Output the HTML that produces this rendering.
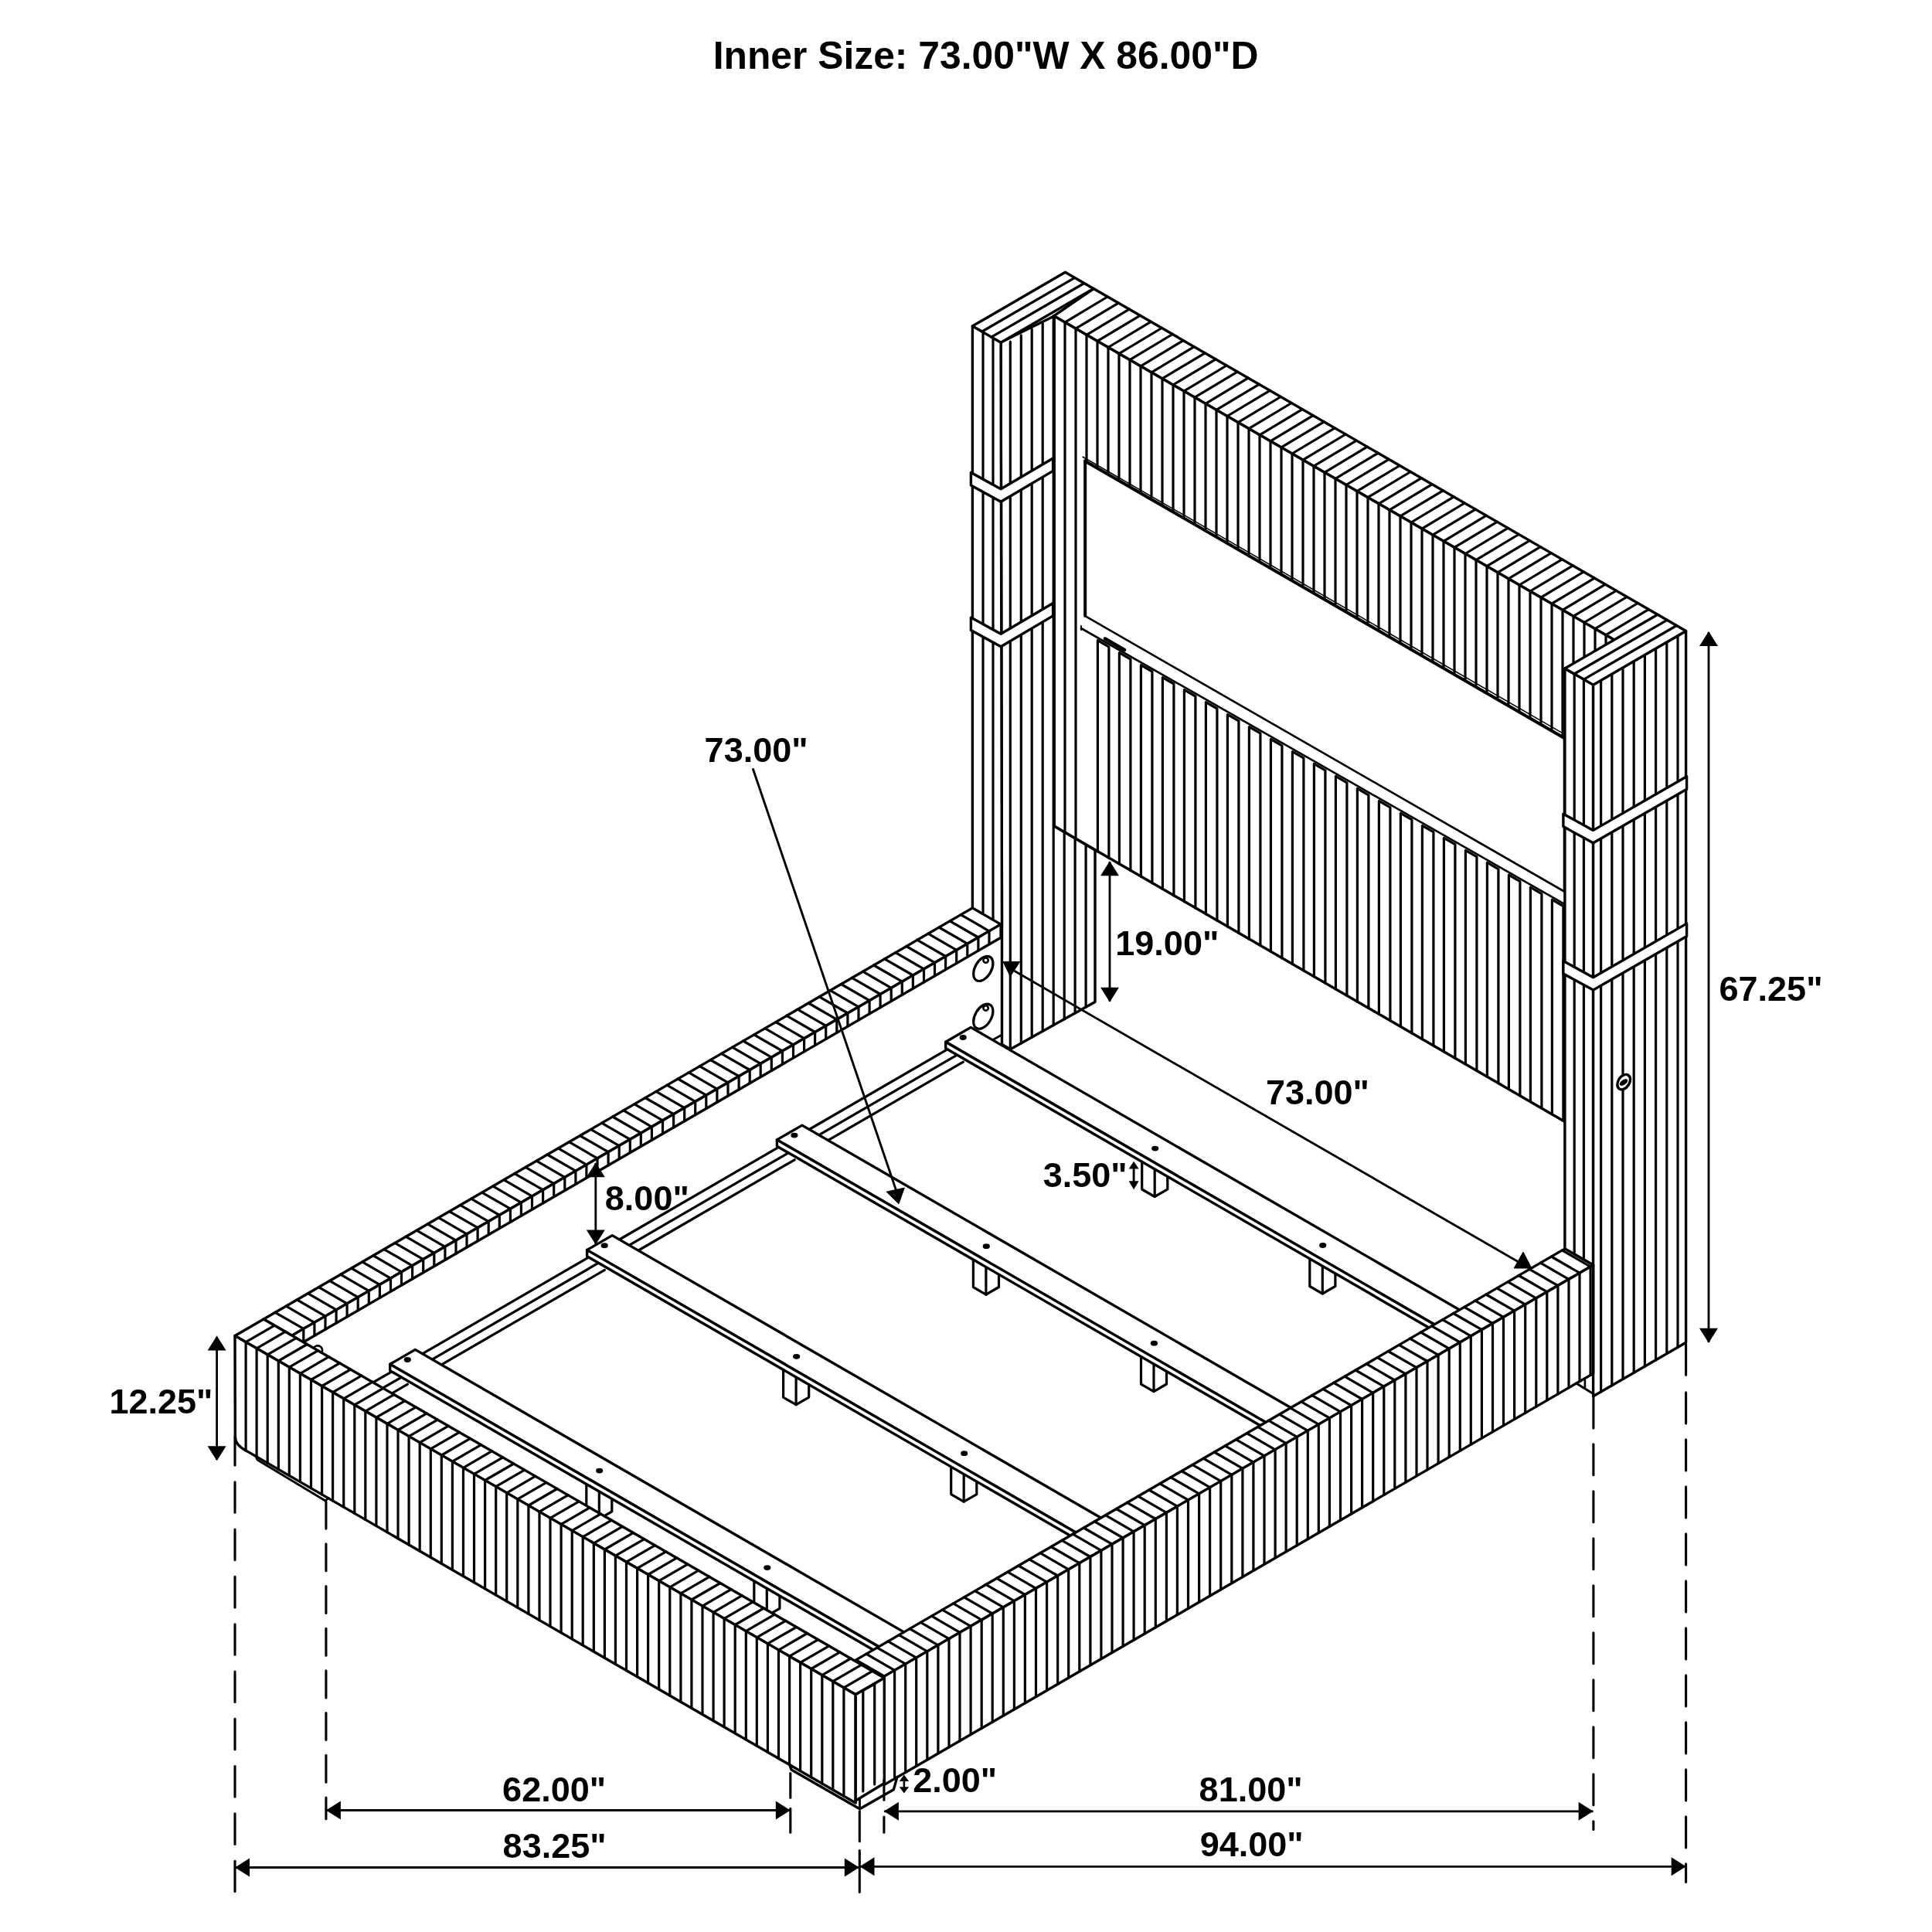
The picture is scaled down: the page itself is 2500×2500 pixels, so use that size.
<!DOCTYPE html>
<html><head><meta charset="utf-8"><title>Bed dimensions</title>
<style>
html,body{margin:0;padding:0;background:#fff;}
body{width:2500px;height:2500px;overflow:hidden;}
svg{display:block;}
text{font-family:"Liberation Sans",sans-serif;font-weight:bold;fill:#000;}
.t{opacity:0.999;will-change:transform;}
</style></head><body>
<svg xmlns="http://www.w3.org/2000/svg" width="2500" height="2500" viewBox="0 0 2500 2500">
<rect width="2500" height="2500" fill="#fff"/>
<g stroke="#000" stroke-linecap="round" stroke-linejoin="round">
<path d="M1363.6 408.8 L2093.5 830.7 L2145 795.3 L1415.1 373.5 Z" fill="#fff" stroke-width="3.4"/>
<path d="M1363.6 408.8 L2093.5 830.7 L2093.6 1491.2 L1364 1069 Z" fill="#fff" stroke-width="3.4"/>
<line x1="1364" y1="409" x2="1364" y2="1069.4" stroke-width="3.2"/>
<line x1="1378" y1="417.1" x2="1378" y2="1077.5" stroke-width="3.2"/>
<line x1="1392" y1="425.2" x2="1392" y2="1085.5" stroke-width="3.2"/>
<line x1="1406" y1="433.3" x2="1406" y2="595.2" stroke-width="3.2"/>
<line x1="1420" y1="441.4" x2="1420" y2="603.3" stroke-width="3.2"/>
<line x1="1434" y1="449.5" x2="1434" y2="611.4" stroke-width="3.2"/>
<line x1="1448" y1="457.6" x2="1448" y2="619.5" stroke-width="3.2"/>
<line x1="1462" y1="465.7" x2="1462" y2="627.6" stroke-width="3.2"/>
<line x1="1476" y1="473.8" x2="1476" y2="635.7" stroke-width="3.2"/>
<line x1="1490" y1="481.9" x2="1490" y2="643.8" stroke-width="3.2"/>
<line x1="1504" y1="489.9" x2="1504" y2="651.9" stroke-width="3.2"/>
<line x1="1518" y1="498" x2="1518" y2="660" stroke-width="3.2"/>
<line x1="1532" y1="506.1" x2="1532" y2="668.1" stroke-width="3.2"/>
<line x1="1546" y1="514.2" x2="1546" y2="676.2" stroke-width="3.2"/>
<line x1="1560" y1="522.3" x2="1560" y2="684.3" stroke-width="3.2"/>
<line x1="1574" y1="530.4" x2="1574" y2="692.3" stroke-width="3.2"/>
<line x1="1588" y1="538.5" x2="1588" y2="700.4" stroke-width="3.2"/>
<line x1="1602" y1="546.6" x2="1602" y2="708.5" stroke-width="3.2"/>
<line x1="1616" y1="554.7" x2="1616" y2="716.6" stroke-width="3.2"/>
<line x1="1630" y1="562.8" x2="1630" y2="724.7" stroke-width="3.2"/>
<line x1="1644" y1="570.9" x2="1644" y2="732.8" stroke-width="3.2"/>
<line x1="1658" y1="578.9" x2="1658" y2="740.9" stroke-width="3.2"/>
<line x1="1672" y1="587" x2="1672" y2="749" stroke-width="3.2"/>
<line x1="1686" y1="595.1" x2="1686" y2="757.1" stroke-width="3.2"/>
<line x1="1700" y1="603.2" x2="1700" y2="765.2" stroke-width="3.2"/>
<line x1="1714" y1="611.3" x2="1714" y2="773.3" stroke-width="3.2"/>
<line x1="1728" y1="619.4" x2="1728" y2="781.4" stroke-width="3.2"/>
<line x1="1742" y1="627.5" x2="1742" y2="789.4" stroke-width="3.2"/>
<line x1="1756" y1="635.6" x2="1756" y2="797.5" stroke-width="3.2"/>
<line x1="1770" y1="643.7" x2="1770" y2="805.6" stroke-width="3.2"/>
<line x1="1784" y1="651.8" x2="1784" y2="813.7" stroke-width="3.2"/>
<line x1="1798" y1="659.9" x2="1798" y2="821.8" stroke-width="3.2"/>
<line x1="1812" y1="667.9" x2="1812" y2="829.9" stroke-width="3.2"/>
<line x1="1826" y1="676" x2="1826" y2="838" stroke-width="3.2"/>
<line x1="1840" y1="684.1" x2="1840" y2="846.1" stroke-width="3.2"/>
<line x1="1854" y1="692.2" x2="1854" y2="854.2" stroke-width="3.2"/>
<line x1="1868" y1="700.3" x2="1868" y2="862.3" stroke-width="3.2"/>
<line x1="1882" y1="708.4" x2="1882" y2="870.4" stroke-width="3.2"/>
<line x1="1896" y1="716.5" x2="1896" y2="878.5" stroke-width="3.2"/>
<line x1="1910" y1="724.6" x2="1910" y2="886.6" stroke-width="3.2"/>
<line x1="1924" y1="732.7" x2="1924" y2="894.6" stroke-width="3.2"/>
<line x1="1938" y1="740.8" x2="1938" y2="902.7" stroke-width="3.2"/>
<line x1="1952" y1="748.9" x2="1952" y2="910.8" stroke-width="3.2"/>
<line x1="1966" y1="757" x2="1966" y2="918.9" stroke-width="3.2"/>
<line x1="1980" y1="765" x2="1980" y2="927" stroke-width="3.2"/>
<line x1="1994" y1="773.1" x2="1994" y2="935.1" stroke-width="3.2"/>
<line x1="2008" y1="781.2" x2="2008" y2="943.2" stroke-width="3.2"/>
<line x1="2022" y1="789.3" x2="2022" y2="951.3" stroke-width="3.2"/>
<line x1="2036" y1="797.4" x2="2036" y2="877.4" stroke-width="3.2"/>
<line x1="2050" y1="805.5" x2="2050" y2="885.5" stroke-width="3.2"/>
<line x1="2064" y1="813.6" x2="2064" y2="893.6" stroke-width="3.2"/>
<line x1="2078" y1="821.7" x2="2078" y2="901.7" stroke-width="3.2"/>
<line x1="2092" y1="829.8" x2="2092" y2="909.8" stroke-width="3.2"/>
<line x1="1378" y1="417.1" x2="1433.2" y2="384" stroke-width="3.2"/>
<line x1="1392" y1="425.2" x2="1447.2" y2="392.1" stroke-width="3.2"/>
<line x1="1406" y1="433.3" x2="1461.2" y2="400.2" stroke-width="3.2"/>
<line x1="1420" y1="441.4" x2="1475.2" y2="408.3" stroke-width="3.2"/>
<line x1="1434" y1="449.5" x2="1489.2" y2="416.4" stroke-width="3.2"/>
<line x1="1448" y1="457.6" x2="1503.2" y2="424.5" stroke-width="3.2"/>
<line x1="1462" y1="465.7" x2="1517.2" y2="432.5" stroke-width="3.2"/>
<line x1="1476" y1="473.8" x2="1531.2" y2="440.6" stroke-width="3.2"/>
<line x1="1490" y1="481.9" x2="1545.2" y2="448.7" stroke-width="3.2"/>
<line x1="1504" y1="489.9" x2="1559.2" y2="456.8" stroke-width="3.2"/>
<line x1="1518" y1="498" x2="1573.2" y2="464.9" stroke-width="3.2"/>
<line x1="1532" y1="506.1" x2="1587.2" y2="473" stroke-width="3.2"/>
<line x1="1546" y1="514.2" x2="1601.2" y2="481.1" stroke-width="3.2"/>
<line x1="1560" y1="522.3" x2="1615.2" y2="489.2" stroke-width="3.2"/>
<line x1="1574" y1="530.4" x2="1629.2" y2="497.3" stroke-width="3.2"/>
<line x1="1588" y1="538.5" x2="1643.2" y2="505.4" stroke-width="3.2"/>
<line x1="1602" y1="546.6" x2="1657.2" y2="513.5" stroke-width="3.2"/>
<line x1="1616" y1="554.7" x2="1671.2" y2="521.5" stroke-width="3.2"/>
<line x1="1630" y1="562.8" x2="1685.2" y2="529.6" stroke-width="3.2"/>
<line x1="1644" y1="570.9" x2="1699.2" y2="537.7" stroke-width="3.2"/>
<line x1="1658" y1="578.9" x2="1713.2" y2="545.8" stroke-width="3.2"/>
<line x1="1672" y1="587" x2="1727.2" y2="553.9" stroke-width="3.2"/>
<line x1="1686" y1="595.1" x2="1741.2" y2="562" stroke-width="3.2"/>
<line x1="1700" y1="603.2" x2="1755.2" y2="570.1" stroke-width="3.2"/>
<line x1="1714" y1="611.3" x2="1769.2" y2="578.2" stroke-width="3.2"/>
<line x1="1728" y1="619.4" x2="1783.2" y2="586.3" stroke-width="3.2"/>
<line x1="1742" y1="627.5" x2="1797.2" y2="594.4" stroke-width="3.2"/>
<line x1="1756" y1="635.6" x2="1811.2" y2="602.5" stroke-width="3.2"/>
<line x1="1770" y1="643.7" x2="1825.2" y2="610.5" stroke-width="3.2"/>
<line x1="1784" y1="651.8" x2="1839.2" y2="618.6" stroke-width="3.2"/>
<line x1="1798" y1="659.9" x2="1853.2" y2="626.7" stroke-width="3.2"/>
<line x1="1812" y1="667.9" x2="1867.2" y2="634.8" stroke-width="3.2"/>
<line x1="1826" y1="676" x2="1881.2" y2="642.9" stroke-width="3.2"/>
<line x1="1840" y1="684.1" x2="1895.2" y2="651" stroke-width="3.2"/>
<line x1="1854" y1="692.2" x2="1909.2" y2="659.1" stroke-width="3.2"/>
<line x1="1868" y1="700.3" x2="1923.2" y2="667.2" stroke-width="3.2"/>
<line x1="1882" y1="708.4" x2="1937.2" y2="675.3" stroke-width="3.2"/>
<line x1="1896" y1="716.5" x2="1951.2" y2="683.4" stroke-width="3.2"/>
<line x1="1910" y1="724.6" x2="1965.2" y2="691.5" stroke-width="3.2"/>
<line x1="1924" y1="732.7" x2="1979.2" y2="699.6" stroke-width="3.2"/>
<line x1="1938" y1="740.8" x2="1993.2" y2="707.6" stroke-width="3.2"/>
<line x1="1952" y1="748.9" x2="2007.2" y2="715.7" stroke-width="3.2"/>
<line x1="1966" y1="757" x2="2021.2" y2="723.8" stroke-width="3.2"/>
<line x1="1980" y1="765" x2="2035.2" y2="731.9" stroke-width="3.2"/>
<line x1="1994" y1="773.1" x2="2049.2" y2="740" stroke-width="3.2"/>
<line x1="2008" y1="781.2" x2="2063.2" y2="748.1" stroke-width="3.2"/>
<line x1="2022" y1="789.3" x2="2077.2" y2="756.2" stroke-width="3.2"/>
<line x1="2036" y1="797.4" x2="2091.2" y2="764.3" stroke-width="3.2"/>
<line x1="2050" y1="805.5" x2="2105.2" y2="772.4" stroke-width="3.2"/>
<line x1="2064" y1="813.6" x2="2119.2" y2="780.5" stroke-width="3.2"/>
<line x1="2078" y1="821.7" x2="2133.2" y2="788.6" stroke-width="3.2"/>
<path d="M1404.2 596.2 L2024 954.4 L2024 1153.5 L1404.2 797.1 Z" fill="#fff" stroke-width="2.6"/>
<line x1="1404.2" y1="596.7" x2="2024" y2="954.9" stroke-width="4.0"/>
<line x1="1401.2" y1="591.2" x2="2024" y2="949.9" stroke-width="1.6"/>
<line x1="1404.2" y1="596.2" x2="1404.2" y2="797.1" stroke-width="4.0"/>
<line x1="1399" y1="813" x2="2024" y2="1169.6" stroke-width="2.6"/>
<line x1="1399" y1="810" x2="1399" y2="815" stroke-width="2.0"/>
<line x1="1430" y1="826.5" x2="1455" y2="841" stroke-width="4.5"/>
<path d="M1420.4 1102 L1420.4 828.7 L1434.9 837.1 L1434.9 1110.3" fill="none" stroke-width="3.2"/>
<path d="M1448.4 1118.1 L1448.4 844.7 L1462.9 853.1 L1462.9 1126.5" fill="none" stroke-width="3.2"/>
<path d="M1476.4 1134.3 L1476.4 860.7 L1490.9 869 L1490.9 1142.7" fill="none" stroke-width="3.2"/>
<path d="M1504.4 1150.5 L1504.4 876.6 L1518.9 885 L1518.9 1158.9" fill="none" stroke-width="3.2"/>
<path d="M1532.4 1166.7 L1532.4 892.6 L1546.9 901 L1546.9 1175.1" fill="none" stroke-width="3.2"/>
<path d="M1560.4 1182.9 L1560.4 908.6 L1574.9 917 L1574.9 1191.3" fill="none" stroke-width="3.2"/>
<path d="M1588.4 1199.1 L1588.4 924.6 L1602.9 932.9 L1602.9 1207.5" fill="none" stroke-width="3.2"/>
<path d="M1616.4 1215.3 L1616.4 940.5 L1630.9 948.9 L1630.9 1223.6" fill="none" stroke-width="3.2"/>
<path d="M1644.4 1231.4 L1644.4 956.5 L1658.9 964.9 L1658.9 1239.8" fill="none" stroke-width="3.2"/>
<path d="M1672.4 1247.6 L1672.4 972.5 L1686.9 980.9 L1686.9 1256" fill="none" stroke-width="3.2"/>
<path d="M1700.4 1263.8 L1700.4 988.4 L1714.9 996.8 L1714.9 1272.2" fill="none" stroke-width="3.2"/>
<path d="M1728.4 1280 L1728.4 1004.4 L1742.9 1012.8 L1742.9 1288.4" fill="none" stroke-width="3.2"/>
<path d="M1756.4 1296.2 L1756.4 1020.4 L1770.9 1028.8 L1770.9 1304.6" fill="none" stroke-width="3.2"/>
<path d="M1784.4 1312.4 L1784.4 1036.4 L1798.9 1044.8 L1798.9 1320.7" fill="none" stroke-width="3.2"/>
<path d="M1812.4 1328.5 L1812.4 1052.3 L1826.9 1060.7 L1826.9 1336.9" fill="none" stroke-width="3.2"/>
<path d="M1840.4 1344.7 L1840.4 1068.3 L1854.9 1076.7 L1854.9 1353.1" fill="none" stroke-width="3.2"/>
<path d="M1868.4 1360.9 L1868.4 1084.3 L1882.9 1092.7 L1882.9 1369.3" fill="none" stroke-width="3.2"/>
<path d="M1896.4 1377.1 L1896.4 1100.3 L1910.9 1108.6 L1910.9 1385.5" fill="none" stroke-width="3.2"/>
<path d="M1924.4 1393.3 L1924.4 1116.2 L1938.9 1124.6 L1938.9 1401.7" fill="none" stroke-width="3.2"/>
<path d="M1952.4 1409.5 L1952.4 1132.2 L1966.9 1140.6 L1966.9 1417.8" fill="none" stroke-width="3.2"/>
<path d="M1980.4 1425.6 L1980.4 1148.2 L1994.9 1156.6 L1994.9 1434" fill="none" stroke-width="3.2"/>
<path d="M2008.4 1441.8 L2008.4 1164.2 L2022.9 1172.5 L2022.9 1450.2" fill="none" stroke-width="3.2"/>
<path d="M1295.1 443.1 L1364 409 L1364 1069 L1417 1100 L1417 1296.6 L1307.3 1357.7 L1296.5 1351.5 L1296.5 1216 Z" fill="#fff" stroke-width="3.4"/>
<line x1="1307.3" y1="442" x2="1307.3" y2="1357.7" stroke-width="3.2"/>
<line x1="1321.3" y1="433.9" x2="1321.3" y2="1349.9" stroke-width="3.2"/>
<line x1="1335.2" y1="425.9" x2="1335.2" y2="1342.2" stroke-width="3.2"/>
<line x1="1349.2" y1="417.7" x2="1349.2" y2="1334.4" stroke-width="3.2"/>
<line x1="1363.2" y1="408.6" x2="1363.2" y2="1326.6" stroke-width="3.2"/>
<line x1="1377.2" y1="1077" x2="1377.2" y2="1318.8" stroke-width="3.2"/>
<line x1="1391.1" y1="1085" x2="1391.1" y2="1311" stroke-width="3.2"/>
<line x1="1405.1" y1="1093.1" x2="1405.1" y2="1303.2" stroke-width="3.2"/>
<path d="M1258.4 421.9 L1295.1 443.1 L1296.5 1199.3 L1258.4 1177 Z" fill="#fff" stroke-width="3.4"/>
<line x1="1272" y1="429.8" x2="1272" y2="1185" stroke-width="3.2"/>
<line x1="1285" y1="437.3" x2="1285" y2="1192.6" stroke-width="3.2"/>
<path d="M1258.4 421.9 L1378.4 352.3 L1415.1 373.5 L1295.1 443.1 Z" fill="#fff" stroke-width="3.4"/>
<line x1="1270.7" y1="429" x2="1390.7" y2="359.4" stroke-width="3.2"/>
<line x1="1282.9" y1="436.1" x2="1402.9" y2="366.5" stroke-width="3.2"/>
<path d="M1256.4 611.5 L1295.1 632.7 L1362.6 593 L1362.6 609.4 L1295.1 649.2 L1256.4 628 Z" fill="#fff" stroke-width="3.4"/>
<path d="M1256.4 799.1 L1295.1 820.3 L1362.6 780.5 L1362.6 796.9 L1295.1 836.7 L1256.4 815.5 Z" fill="#fff" stroke-width="3.4"/>
<path d="M2024.9 865 L2061.6 886.1 L2061.6 1637 L2024.9 1615.9 Z" fill="#fff" stroke-width="3.4"/>
<line x1="2037.2" y1="872" x2="2037.2" y2="1622.9" stroke-width="3.2"/>
<line x1="2049.4" y1="879.1" x2="2049.4" y2="1630" stroke-width="3.2"/>
<path d="M2061.6 886.1 L2181.6 816.5 L2181.6 1737.2 L2061.6 1806.8 Z" fill="#fff" stroke-width="3.4"/>
<line x1="2071.6" y1="880.3" x2="2071.6" y2="1801" stroke-width="3.2"/>
<line x1="2085.8" y1="872.1" x2="2085.8" y2="1792.8" stroke-width="3.2"/>
<line x1="2100" y1="863.9" x2="2100" y2="1784.5" stroke-width="3.2"/>
<line x1="2114.2" y1="855.6" x2="2114.2" y2="1776.3" stroke-width="3.2"/>
<line x1="2128.4" y1="847.4" x2="2128.4" y2="1768.1" stroke-width="3.2"/>
<line x1="2142.6" y1="839.2" x2="2142.6" y2="1759.8" stroke-width="3.2"/>
<line x1="2156.8" y1="830.9" x2="2156.8" y2="1751.6" stroke-width="3.2"/>
<line x1="2171" y1="822.7" x2="2171" y2="1743.3" stroke-width="3.2"/>
<path d="M2024.9 865 L2145 795.3 L2181.6 816.5 L2061.6 886.1 Z" fill="#fff" stroke-width="3.4"/>
<line x1="2037.2" y1="872" x2="2157.2" y2="802.4" stroke-width="3.2"/>
<line x1="2049.4" y1="879.1" x2="2169.5" y2="809.5" stroke-width="3.2"/>
<path d="M2022.9 1053.2 L2061.6 1074.4 L2182.6 1004.8 L2182.6 1021.2 L2061.6 1090.8 L2022.9 1069.6 Z" fill="#fff" stroke-width="3.4"/>
<path d="M2022.9 1243.5 L2061.6 1264.7 L2182.6 1195.1 L2182.6 1211.5 L2061.6 1281.1 L2022.9 1259.9 Z" fill="#fff" stroke-width="3.4"/>
<ellipse cx="2101.2" cy="1400.1" rx="7.2" ry="10.6" transform="rotate(33 2101.2 1400.1)" fill="#fff" stroke-width="3.4"/>
<ellipse cx="2101" cy="1400.5" rx="6" ry="3.2" transform="rotate(-35 2101 1400.5)" fill="#000" stroke="none"/>
<path d="M341.1 1707 L1258.4 1174.9 L1295.1 1196.1 L377.8 1728.1 Z" fill="#fff" stroke-width="3.4"/>
<path d="M377.8 1728.1 L1295.1 1196.1 L1295.1 1213.2 L377.8 1745.3 Z" fill="#fff" stroke-width="3.4"/>
<line x1="356.1" y1="1698.3" x2="392.8" y2="1719.4" stroke-width="3.2"/>
<line x1="392.8" y1="1719.4" x2="392.8" y2="1736.6" stroke-width="3.2"/>
<line x1="370.2" y1="1690.1" x2="406.9" y2="1711.3" stroke-width="3.2"/>
<line x1="406.9" y1="1711.3" x2="406.9" y2="1728.4" stroke-width="3.2"/>
<line x1="384.3" y1="1681.9" x2="421" y2="1703.1" stroke-width="3.2"/>
<line x1="421" y1="1703.1" x2="421" y2="1720.2" stroke-width="3.2"/>
<line x1="398.4" y1="1673.7" x2="435.1" y2="1694.9" stroke-width="3.2"/>
<line x1="435.1" y1="1694.9" x2="435.1" y2="1712" stroke-width="3.2"/>
<line x1="412.5" y1="1665.6" x2="449.1" y2="1686.8" stroke-width="3.2"/>
<line x1="449.1" y1="1686.8" x2="449.1" y2="1703.9" stroke-width="3.2"/>
<line x1="426.6" y1="1657.4" x2="463.2" y2="1678.6" stroke-width="3.2"/>
<line x1="463.2" y1="1678.6" x2="463.2" y2="1695.7" stroke-width="3.2"/>
<line x1="440.6" y1="1649.2" x2="477.3" y2="1670.4" stroke-width="3.2"/>
<line x1="477.3" y1="1670.4" x2="477.3" y2="1687.5" stroke-width="3.2"/>
<line x1="454.7" y1="1641.1" x2="491.4" y2="1662.3" stroke-width="3.2"/>
<line x1="491.4" y1="1662.3" x2="491.4" y2="1679.4" stroke-width="3.2"/>
<line x1="468.8" y1="1632.9" x2="505.5" y2="1654.1" stroke-width="3.2"/>
<line x1="505.5" y1="1654.1" x2="505.5" y2="1671.2" stroke-width="3.2"/>
<line x1="482.9" y1="1624.7" x2="519.5" y2="1645.9" stroke-width="3.2"/>
<line x1="519.5" y1="1645.9" x2="519.5" y2="1663" stroke-width="3.2"/>
<line x1="497" y1="1616.6" x2="533.6" y2="1637.8" stroke-width="3.2"/>
<line x1="533.6" y1="1637.8" x2="533.6" y2="1654.9" stroke-width="3.2"/>
<line x1="511" y1="1608.4" x2="547.7" y2="1629.6" stroke-width="3.2"/>
<line x1="547.7" y1="1629.6" x2="547.7" y2="1646.7" stroke-width="3.2"/>
<line x1="525.1" y1="1600.2" x2="561.8" y2="1621.4" stroke-width="3.2"/>
<line x1="561.8" y1="1621.4" x2="561.8" y2="1638.5" stroke-width="3.2"/>
<line x1="539.2" y1="1592.1" x2="575.9" y2="1613.3" stroke-width="3.2"/>
<line x1="575.9" y1="1613.3" x2="575.9" y2="1630.4" stroke-width="3.2"/>
<line x1="553.3" y1="1583.9" x2="590" y2="1605.1" stroke-width="3.2"/>
<line x1="590" y1="1605.1" x2="590" y2="1622.2" stroke-width="3.2"/>
<line x1="567.4" y1="1575.7" x2="604" y2="1596.9" stroke-width="3.2"/>
<line x1="604" y1="1596.9" x2="604" y2="1614" stroke-width="3.2"/>
<line x1="581.5" y1="1567.6" x2="618.1" y2="1588.7" stroke-width="3.2"/>
<line x1="618.1" y1="1588.7" x2="618.1" y2="1605.9" stroke-width="3.2"/>
<line x1="595.5" y1="1559.4" x2="632.2" y2="1580.6" stroke-width="3.2"/>
<line x1="632.2" y1="1580.6" x2="632.2" y2="1597.7" stroke-width="3.2"/>
<line x1="609.6" y1="1551.2" x2="646.3" y2="1572.4" stroke-width="3.2"/>
<line x1="646.3" y1="1572.4" x2="646.3" y2="1589.5" stroke-width="3.2"/>
<line x1="623.7" y1="1543.1" x2="660.4" y2="1564.2" stroke-width="3.2"/>
<line x1="660.4" y1="1564.2" x2="660.4" y2="1581.4" stroke-width="3.2"/>
<line x1="637.8" y1="1534.9" x2="674.4" y2="1556.1" stroke-width="3.2"/>
<line x1="674.4" y1="1556.1" x2="674.4" y2="1573.2" stroke-width="3.2"/>
<line x1="651.9" y1="1526.7" x2="688.5" y2="1547.9" stroke-width="3.2"/>
<line x1="688.5" y1="1547.9" x2="688.5" y2="1565" stroke-width="3.2"/>
<line x1="665.9" y1="1518.6" x2="702.6" y2="1539.7" stroke-width="3.2"/>
<line x1="702.6" y1="1539.7" x2="702.6" y2="1556.9" stroke-width="3.2"/>
<line x1="680" y1="1510.4" x2="716.7" y2="1531.6" stroke-width="3.2"/>
<line x1="716.7" y1="1531.6" x2="716.7" y2="1548.7" stroke-width="3.2"/>
<line x1="694.1" y1="1502.2" x2="730.8" y2="1523.4" stroke-width="3.2"/>
<line x1="730.8" y1="1523.4" x2="730.8" y2="1540.5" stroke-width="3.2"/>
<line x1="708.2" y1="1494" x2="744.9" y2="1515.2" stroke-width="3.2"/>
<line x1="744.9" y1="1515.2" x2="744.9" y2="1532.3" stroke-width="3.2"/>
<line x1="722.3" y1="1485.9" x2="758.9" y2="1507.1" stroke-width="3.2"/>
<line x1="758.9" y1="1507.1" x2="758.9" y2="1524.2" stroke-width="3.2"/>
<line x1="736.4" y1="1477.7" x2="773" y2="1498.9" stroke-width="3.2"/>
<line x1="773" y1="1498.9" x2="773" y2="1516" stroke-width="3.2"/>
<line x1="750.4" y1="1469.5" x2="787.1" y2="1490.7" stroke-width="3.2"/>
<line x1="787.1" y1="1490.7" x2="787.1" y2="1507.8" stroke-width="3.2"/>
<line x1="764.5" y1="1461.4" x2="801.2" y2="1482.6" stroke-width="3.2"/>
<line x1="801.2" y1="1482.6" x2="801.2" y2="1499.7" stroke-width="3.2"/>
<line x1="778.6" y1="1453.2" x2="815.3" y2="1474.4" stroke-width="3.2"/>
<line x1="815.3" y1="1474.4" x2="815.3" y2="1491.5" stroke-width="3.2"/>
<line x1="792.7" y1="1445" x2="829.3" y2="1466.2" stroke-width="3.2"/>
<line x1="829.3" y1="1466.2" x2="829.3" y2="1483.3" stroke-width="3.2"/>
<line x1="806.8" y1="1436.9" x2="843.4" y2="1458.1" stroke-width="3.2"/>
<line x1="843.4" y1="1458.1" x2="843.4" y2="1475.2" stroke-width="3.2"/>
<line x1="820.8" y1="1428.7" x2="857.5" y2="1449.9" stroke-width="3.2"/>
<line x1="857.5" y1="1449.9" x2="857.5" y2="1467" stroke-width="3.2"/>
<line x1="834.9" y1="1420.5" x2="871.6" y2="1441.7" stroke-width="3.2"/>
<line x1="871.6" y1="1441.7" x2="871.6" y2="1458.8" stroke-width="3.2"/>
<line x1="849" y1="1412.4" x2="885.7" y2="1433.6" stroke-width="3.2"/>
<line x1="885.7" y1="1433.6" x2="885.7" y2="1450.7" stroke-width="3.2"/>
<line x1="863.1" y1="1404.2" x2="899.7" y2="1425.4" stroke-width="3.2"/>
<line x1="899.7" y1="1425.4" x2="899.7" y2="1442.5" stroke-width="3.2"/>
<line x1="877.2" y1="1396" x2="913.8" y2="1417.2" stroke-width="3.2"/>
<line x1="913.8" y1="1417.2" x2="913.8" y2="1434.3" stroke-width="3.2"/>
<line x1="891.3" y1="1387.9" x2="927.9" y2="1409.1" stroke-width="3.2"/>
<line x1="927.9" y1="1409.1" x2="927.9" y2="1426.2" stroke-width="3.2"/>
<line x1="905.3" y1="1379.7" x2="942" y2="1400.9" stroke-width="3.2"/>
<line x1="942" y1="1400.9" x2="942" y2="1418" stroke-width="3.2"/>
<line x1="919.4" y1="1371.5" x2="956.1" y2="1392.7" stroke-width="3.2"/>
<line x1="956.1" y1="1392.7" x2="956.1" y2="1409.8" stroke-width="3.2"/>
<line x1="933.5" y1="1363.4" x2="970.2" y2="1384.5" stroke-width="3.2"/>
<line x1="970.2" y1="1384.5" x2="970.2" y2="1401.7" stroke-width="3.2"/>
<line x1="947.6" y1="1355.2" x2="984.2" y2="1376.4" stroke-width="3.2"/>
<line x1="984.2" y1="1376.4" x2="984.2" y2="1393.5" stroke-width="3.2"/>
<line x1="961.7" y1="1347" x2="998.3" y2="1368.2" stroke-width="3.2"/>
<line x1="998.3" y1="1368.2" x2="998.3" y2="1385.3" stroke-width="3.2"/>
<line x1="975.7" y1="1338.9" x2="1012.4" y2="1360" stroke-width="3.2"/>
<line x1="1012.4" y1="1360" x2="1012.4" y2="1377.2" stroke-width="3.2"/>
<line x1="989.8" y1="1330.7" x2="1026.5" y2="1351.9" stroke-width="3.2"/>
<line x1="1026.5" y1="1351.9" x2="1026.5" y2="1369" stroke-width="3.2"/>
<line x1="1003.9" y1="1322.5" x2="1040.6" y2="1343.7" stroke-width="3.2"/>
<line x1="1040.6" y1="1343.7" x2="1040.6" y2="1360.8" stroke-width="3.2"/>
<line x1="1018" y1="1314.3" x2="1054.6" y2="1335.5" stroke-width="3.2"/>
<line x1="1054.6" y1="1335.5" x2="1054.6" y2="1352.6" stroke-width="3.2"/>
<line x1="1032.1" y1="1306.2" x2="1068.7" y2="1327.4" stroke-width="3.2"/>
<line x1="1068.7" y1="1327.4" x2="1068.7" y2="1344.5" stroke-width="3.2"/>
<line x1="1046.1" y1="1298" x2="1082.8" y2="1319.2" stroke-width="3.2"/>
<line x1="1082.8" y1="1319.2" x2="1082.8" y2="1336.3" stroke-width="3.2"/>
<line x1="1060.2" y1="1289.8" x2="1096.9" y2="1311" stroke-width="3.2"/>
<line x1="1096.9" y1="1311" x2="1096.9" y2="1328.1" stroke-width="3.2"/>
<line x1="1074.3" y1="1281.7" x2="1111" y2="1302.9" stroke-width="3.2"/>
<line x1="1111" y1="1302.9" x2="1111" y2="1320" stroke-width="3.2"/>
<line x1="1088.4" y1="1273.5" x2="1125.1" y2="1294.7" stroke-width="3.2"/>
<line x1="1125.1" y1="1294.7" x2="1125.1" y2="1311.8" stroke-width="3.2"/>
<line x1="1102.5" y1="1265.3" x2="1139.1" y2="1286.5" stroke-width="3.2"/>
<line x1="1139.1" y1="1286.5" x2="1139.1" y2="1303.6" stroke-width="3.2"/>
<line x1="1116.6" y1="1257.2" x2="1153.2" y2="1278.4" stroke-width="3.2"/>
<line x1="1153.2" y1="1278.4" x2="1153.2" y2="1295.5" stroke-width="3.2"/>
<line x1="1130.6" y1="1249" x2="1167.3" y2="1270.2" stroke-width="3.2"/>
<line x1="1167.3" y1="1270.2" x2="1167.3" y2="1287.3" stroke-width="3.2"/>
<line x1="1144.7" y1="1240.8" x2="1181.4" y2="1262" stroke-width="3.2"/>
<line x1="1181.4" y1="1262" x2="1181.4" y2="1279.1" stroke-width="3.2"/>
<line x1="1158.8" y1="1232.7" x2="1195.5" y2="1253.9" stroke-width="3.2"/>
<line x1="1195.5" y1="1253.9" x2="1195.5" y2="1271" stroke-width="3.2"/>
<line x1="1172.9" y1="1224.5" x2="1209.5" y2="1245.7" stroke-width="3.2"/>
<line x1="1209.5" y1="1245.7" x2="1209.5" y2="1262.8" stroke-width="3.2"/>
<line x1="1187" y1="1216.3" x2="1223.6" y2="1237.5" stroke-width="3.2"/>
<line x1="1223.6" y1="1237.5" x2="1223.6" y2="1254.6" stroke-width="3.2"/>
<line x1="1201" y1="1208.2" x2="1237.7" y2="1229.4" stroke-width="3.2"/>
<line x1="1237.7" y1="1229.4" x2="1237.7" y2="1246.5" stroke-width="3.2"/>
<line x1="1215.1" y1="1200" x2="1251.8" y2="1221.2" stroke-width="3.2"/>
<line x1="1251.8" y1="1221.2" x2="1251.8" y2="1238.3" stroke-width="3.2"/>
<line x1="1229.2" y1="1191.8" x2="1265.9" y2="1213" stroke-width="3.2"/>
<line x1="1265.9" y1="1213" x2="1265.9" y2="1230.1" stroke-width="3.2"/>
<line x1="1243.3" y1="1183.7" x2="1280" y2="1204.8" stroke-width="3.2"/>
<line x1="1280" y1="1204.8" x2="1280" y2="1222" stroke-width="3.2"/>
<ellipse cx="1272.3" cy="1253.4" rx="10.5" ry="17.5" transform="rotate(30 1272.3 1253.4)" fill="#fff" stroke-width="3.2"/>
<circle cx="1275.6" cy="1242.6000000000001" r="3.2" fill="#fff" stroke-width="2.6"/>
<ellipse cx="1272.3" cy="1315.2" rx="10.5" ry="17.5" transform="rotate(30 1272.3 1315.2)" fill="#fff" stroke-width="3.2"/>
<circle cx="1275.6" cy="1304.4" r="3.2" fill="#fff" stroke-width="2.6"/>
<line x1="380.1" y1="1848.4" x2="505.3" y2="1775.8" stroke-width="3.2"/>
<line x1="534.4" y1="1758.9" x2="760.1" y2="1627.9" stroke-width="3.2"/>
<line x1="789.3" y1="1611" x2="1005.9" y2="1485.4" stroke-width="3.2"/>
<line x1="1035" y1="1468.5" x2="1224.2" y2="1358.8" stroke-width="3.2"/>
<line x1="398" y1="1852.6" x2="524.6" y2="1779.2" stroke-width="3.2"/>
<line x1="552.3" y1="1763.1" x2="779.5" y2="1631.3" stroke-width="3.2"/>
<line x1="807.2" y1="1615.3" x2="1025.3" y2="1488.8" stroke-width="3.2"/>
<line x1="1052.9" y1="1472.7" x2="1243.6" y2="1362.2" stroke-width="3.2"/>
<line x1="398" y1="1866.3" x2="527.5" y2="1791.2" stroke-width="3.2"/>
<line x1="552.3" y1="1776.8" x2="782.4" y2="1643.4" stroke-width="3.2"/>
<line x1="807.2" y1="1629" x2="1028.1" y2="1500.8" stroke-width="3.2"/>
<line x1="1052.9" y1="1486.4" x2="1246.4" y2="1374.2" stroke-width="3.2"/>
<line x1="1284" y1="1346" x2="1296.5" y2="1339" stroke-width="2.6"/>
<path d="M758.8 1912.2 L758.8 1956 L775.3 1965.6 L791.8 1955.9 L791.8 1912.1 L775.3 1921.7 Z" fill="#fff" stroke-width="3.2"/>
<line x1="775.3" y1="1921.7" x2="775.3" y2="1965.6" stroke-width="3.2"/>
<path d="M975.8 2037.7 L975.8 2081.5 L992.3 2091 L1008.9 2081.4 L1008.9 2037.6 L992.3 2047.2 Z" fill="#fff" stroke-width="3.2"/>
<line x1="992.3" y1="2047.2" x2="992.3" y2="2091" stroke-width="3.2"/>
<path d="M1013.6 1764.4 L1013.6 1808.2 L1030.1 1817.7 L1046.7 1808.1 L1046.7 1764.3 L1030.1 1773.9 Z" fill="#fff" stroke-width="3.2"/>
<line x1="1030.1" y1="1773.9" x2="1030.1" y2="1817.7" stroke-width="3.2"/>
<path d="M1230.7 1889.8 L1230.7 1933.6 L1247.2 1943.2 L1263.8 1933.6 L1263.8 1889.7 L1247.2 1899.4 Z" fill="#fff" stroke-width="3.2"/>
<line x1="1247.2" y1="1899.4" x2="1247.2" y2="1943.2" stroke-width="3.2"/>
<path d="M1259.4 1621.8 L1259.4 1665.6 L1275.9 1675.2 L1292.5 1665.5 L1292.5 1621.7 L1275.9 1631.4 Z" fill="#fff" stroke-width="3.2"/>
<line x1="1275.9" y1="1631.4" x2="1275.9" y2="1675.2" stroke-width="3.2"/>
<path d="M1476.5 1747.3 L1476.5 1791.1 L1493 1800.6 L1509.5 1791 L1509.5 1747.2 L1493 1756.8 Z" fill="#fff" stroke-width="3.2"/>
<line x1="1493" y1="1756.8" x2="1493" y2="1800.6" stroke-width="3.2"/>
<path d="M1477.7 1495.2 L1477.7 1539 L1494.2 1548.5 L1510.8 1538.9 L1510.8 1495.1 L1494.2 1504.7 Z" fill="#fff" stroke-width="3.2"/>
<line x1="1494.2" y1="1504.7" x2="1494.2" y2="1548.5" stroke-width="3.2"/>
<path d="M1694.8 1620.6 L1694.8 1664.5 L1711.3 1674 L1727.9 1664.4 L1727.9 1620.6 L1711.3 1630.2 Z" fill="#fff" stroke-width="3.2"/>
<line x1="1711.3" y1="1630.2" x2="1711.3" y2="1674" stroke-width="3.2"/>
<path d="M504.7 1765.3 L537.3 1746.4 L1264.3 2166.6 L1231.7 2185.5 Z" fill="#fff" stroke-width="3.4"/>
<path d="M504.7 1765.3 L1231.7 2185.5 L1231.7 2193.7 L504.7 1773.6 Z" fill="#fff" stroke-width="3.4"/>
<ellipse cx="527.3" cy="1759.5" rx="4.6" ry="3.4" fill="#000" stroke="none"/>
<ellipse cx="775.7" cy="1903.1" rx="4.6" ry="3.4" fill="#000" stroke="none"/>
<ellipse cx="992.8" cy="2028.6" rx="4.6" ry="3.4" fill="#000" stroke="none"/>
<path d="M759.6 1617.5 L792.2 1598.6 L1519.2 2018.7 L1486.6 2037.6 Z" fill="#fff" stroke-width="3.4"/>
<path d="M759.6 1617.5 L1486.6 2037.6 L1486.6 2045.9 L759.6 1625.7 Z" fill="#fff" stroke-width="3.4"/>
<ellipse cx="782.2" cy="1611.7" rx="4.6" ry="3.4" fill="#000" stroke="none"/>
<ellipse cx="1030.6" cy="1755.3" rx="4.6" ry="3.4" fill="#000" stroke="none"/>
<ellipse cx="1247.7" cy="1880.7" rx="4.6" ry="3.4" fill="#000" stroke="none"/>
<path d="M1005.4 1474.9 L1037.9 1456.1 L1764.9 1876.2 L1732.3 1895.1 Z" fill="#fff" stroke-width="3.4"/>
<path d="M1005.4 1474.9 L1732.3 1895.1 L1732.3 1903.3 L1005.4 1483.2 Z" fill="#fff" stroke-width="3.4"/>
<ellipse cx="1027.9" cy="1469.1" rx="4.6" ry="3.4" fill="#000" stroke="none"/>
<ellipse cx="1276.3" cy="1612.7" rx="4.6" ry="3.4" fill="#000" stroke="none"/>
<ellipse cx="1493.4" cy="1738.2" rx="4.6" ry="3.4" fill="#000" stroke="none"/>
<path d="M1223.7 1348.3 L1256.2 1329.4 L1983.2 1749.6 L1950.6 1768.5 Z" fill="#fff" stroke-width="3.4"/>
<path d="M1223.7 1348.3 L1950.6 1768.5 L1950.6 1776.7 L1223.7 1356.5 Z" fill="#fff" stroke-width="3.4"/>
<ellipse cx="1246.2" cy="1342.5" rx="4.6" ry="3.4" fill="#000" stroke="none"/>
<ellipse cx="1494.7" cy="1486.1" rx="4.6" ry="3.4" fill="#000" stroke="none"/>
<ellipse cx="1711.7" cy="1611.5" rx="4.6" ry="3.4" fill="#000" stroke="none"/>
<path d="M1107.7 2147.9 L2024.9 1615.9 L2061.6 1637 L1144.3 2169.1 Z" fill="#fff" stroke-width="3.4"/>
<path d="M1144.3 2169.1 L2061.6 1637 L2061.6 1777.4 L1144.3 2309.4 Z" fill="#fff" stroke-width="3.4"/>
<line x1="1120.9" y1="2140.2" x2="1157.6" y2="2161.4" stroke-width="3.2"/>
<line x1="1157.6" y1="2161.4" x2="1157.6" y2="2301.7" stroke-width="3.2"/>
<line x1="1135" y1="2132.1" x2="1171.7" y2="2153.2" stroke-width="3.2"/>
<line x1="1171.7" y1="2153.2" x2="1171.7" y2="2293.6" stroke-width="3.2"/>
<line x1="1149.1" y1="2123.9" x2="1185.7" y2="2145.1" stroke-width="3.2"/>
<line x1="1185.7" y1="2145.1" x2="1185.7" y2="2285.4" stroke-width="3.2"/>
<line x1="1163.2" y1="2115.7" x2="1199.8" y2="2136.9" stroke-width="3.2"/>
<line x1="1199.8" y1="2136.9" x2="1199.8" y2="2277.2" stroke-width="3.2"/>
<line x1="1177.2" y1="2107.6" x2="1213.9" y2="2128.8" stroke-width="3.2"/>
<line x1="1213.9" y1="2128.8" x2="1213.9" y2="2269.1" stroke-width="3.2"/>
<line x1="1191.3" y1="2099.4" x2="1228" y2="2120.6" stroke-width="3.2"/>
<line x1="1228" y1="2120.6" x2="1228" y2="2260.9" stroke-width="3.2"/>
<line x1="1205.4" y1="2091.2" x2="1242" y2="2112.4" stroke-width="3.2"/>
<line x1="1242" y1="2112.4" x2="1242" y2="2252.8" stroke-width="3.2"/>
<line x1="1219.4" y1="2083.1" x2="1256.1" y2="2104.3" stroke-width="3.2"/>
<line x1="1256.1" y1="2104.3" x2="1256.1" y2="2244.6" stroke-width="3.2"/>
<line x1="1233.5" y1="2074.9" x2="1270.2" y2="2096.1" stroke-width="3.2"/>
<line x1="1270.2" y1="2096.1" x2="1270.2" y2="2236.4" stroke-width="3.2"/>
<line x1="1247.6" y1="2066.8" x2="1284.2" y2="2088" stroke-width="3.2"/>
<line x1="1284.2" y1="2088" x2="1284.2" y2="2228.3" stroke-width="3.2"/>
<line x1="1261.6" y1="2058.6" x2="1298.3" y2="2079.8" stroke-width="3.2"/>
<line x1="1298.3" y1="2079.8" x2="1298.3" y2="2220.1" stroke-width="3.2"/>
<line x1="1275.7" y1="2050.4" x2="1312.4" y2="2071.6" stroke-width="3.2"/>
<line x1="1312.4" y1="2071.6" x2="1312.4" y2="2212" stroke-width="3.2"/>
<line x1="1289.8" y1="2042.3" x2="1326.4" y2="2063.5" stroke-width="3.2"/>
<line x1="1326.4" y1="2063.5" x2="1326.4" y2="2203.8" stroke-width="3.2"/>
<line x1="1303.9" y1="2034.1" x2="1340.5" y2="2055.3" stroke-width="3.2"/>
<line x1="1340.5" y1="2055.3" x2="1340.5" y2="2195.6" stroke-width="3.2"/>
<line x1="1317.9" y1="2026" x2="1354.6" y2="2047.1" stroke-width="3.2"/>
<line x1="1354.6" y1="2047.1" x2="1354.6" y2="2187.5" stroke-width="3.2"/>
<line x1="1332" y1="2017.8" x2="1368.7" y2="2039" stroke-width="3.2"/>
<line x1="1368.7" y1="2039" x2="1368.7" y2="2179.3" stroke-width="3.2"/>
<line x1="1346.1" y1="2009.6" x2="1382.7" y2="2030.8" stroke-width="3.2"/>
<line x1="1382.7" y1="2030.8" x2="1382.7" y2="2171.1" stroke-width="3.2"/>
<line x1="1360.1" y1="2001.5" x2="1396.8" y2="2022.7" stroke-width="3.2"/>
<line x1="1396.8" y1="2022.7" x2="1396.8" y2="2163" stroke-width="3.2"/>
<line x1="1374.2" y1="1993.3" x2="1410.9" y2="2014.5" stroke-width="3.2"/>
<line x1="1410.9" y1="2014.5" x2="1410.9" y2="2154.8" stroke-width="3.2"/>
<line x1="1388.3" y1="1985.1" x2="1424.9" y2="2006.3" stroke-width="3.2"/>
<line x1="1424.9" y1="2006.3" x2="1424.9" y2="2146.7" stroke-width="3.2"/>
<line x1="1402.3" y1="1977" x2="1439" y2="1998.2" stroke-width="3.2"/>
<line x1="1439" y1="1998.2" x2="1439" y2="2138.5" stroke-width="3.2"/>
<line x1="1416.4" y1="1968.8" x2="1453.1" y2="1990" stroke-width="3.2"/>
<line x1="1453.1" y1="1990" x2="1453.1" y2="2130.3" stroke-width="3.2"/>
<line x1="1430.5" y1="1960.7" x2="1467.1" y2="1981.9" stroke-width="3.2"/>
<line x1="1467.1" y1="1981.9" x2="1467.1" y2="2122.2" stroke-width="3.2"/>
<line x1="1444.6" y1="1952.5" x2="1481.2" y2="1973.7" stroke-width="3.2"/>
<line x1="1481.2" y1="1973.7" x2="1481.2" y2="2114" stroke-width="3.2"/>
<line x1="1458.6" y1="1944.3" x2="1495.3" y2="1965.5" stroke-width="3.2"/>
<line x1="1495.3" y1="1965.5" x2="1495.3" y2="2105.9" stroke-width="3.2"/>
<line x1="1472.7" y1="1936.2" x2="1509.4" y2="1957.4" stroke-width="3.2"/>
<line x1="1509.4" y1="1957.4" x2="1509.4" y2="2097.7" stroke-width="3.2"/>
<line x1="1486.8" y1="1928" x2="1523.4" y2="1949.2" stroke-width="3.2"/>
<line x1="1523.4" y1="1949.2" x2="1523.4" y2="2089.5" stroke-width="3.2"/>
<line x1="1500.8" y1="1919.9" x2="1537.5" y2="1941" stroke-width="3.2"/>
<line x1="1537.5" y1="1941" x2="1537.5" y2="2081.4" stroke-width="3.2"/>
<line x1="1514.9" y1="1911.7" x2="1551.6" y2="1932.9" stroke-width="3.2"/>
<line x1="1551.6" y1="1932.9" x2="1551.6" y2="2073.2" stroke-width="3.2"/>
<line x1="1529" y1="1903.5" x2="1565.6" y2="1924.7" stroke-width="3.2"/>
<line x1="1565.6" y1="1924.7" x2="1565.6" y2="2065" stroke-width="3.2"/>
<line x1="1543" y1="1895.4" x2="1579.7" y2="1916.6" stroke-width="3.2"/>
<line x1="1579.7" y1="1916.6" x2="1579.7" y2="2056.9" stroke-width="3.2"/>
<line x1="1557.1" y1="1887.2" x2="1593.8" y2="1908.4" stroke-width="3.2"/>
<line x1="1593.8" y1="1908.4" x2="1593.8" y2="2048.7" stroke-width="3.2"/>
<line x1="1571.2" y1="1879" x2="1607.9" y2="1900.2" stroke-width="3.2"/>
<line x1="1607.9" y1="1900.2" x2="1607.9" y2="2040.6" stroke-width="3.2"/>
<line x1="1585.3" y1="1870.9" x2="1621.9" y2="1892.1" stroke-width="3.2"/>
<line x1="1621.9" y1="1892.1" x2="1621.9" y2="2032.4" stroke-width="3.2"/>
<line x1="1599.3" y1="1862.7" x2="1636" y2="1883.9" stroke-width="3.2"/>
<line x1="1636" y1="1883.9" x2="1636" y2="2024.2" stroke-width="3.2"/>
<line x1="1613.4" y1="1854.6" x2="1650.1" y2="1875.8" stroke-width="3.2"/>
<line x1="1650.1" y1="1875.8" x2="1650.1" y2="2016.1" stroke-width="3.2"/>
<line x1="1627.5" y1="1846.4" x2="1664.1" y2="1867.6" stroke-width="3.2"/>
<line x1="1664.1" y1="1867.6" x2="1664.1" y2="2007.9" stroke-width="3.2"/>
<line x1="1641.5" y1="1838.2" x2="1678.2" y2="1859.4" stroke-width="3.2"/>
<line x1="1678.2" y1="1859.4" x2="1678.2" y2="1999.8" stroke-width="3.2"/>
<line x1="1655.6" y1="1830.1" x2="1692.3" y2="1851.3" stroke-width="3.2"/>
<line x1="1692.3" y1="1851.3" x2="1692.3" y2="1991.6" stroke-width="3.2"/>
<line x1="1669.7" y1="1821.9" x2="1706.3" y2="1843.1" stroke-width="3.2"/>
<line x1="1706.3" y1="1843.1" x2="1706.3" y2="1983.4" stroke-width="3.2"/>
<line x1="1683.8" y1="1813.8" x2="1720.4" y2="1834.9" stroke-width="3.2"/>
<line x1="1720.4" y1="1834.9" x2="1720.4" y2="1975.3" stroke-width="3.2"/>
<line x1="1697.8" y1="1805.6" x2="1734.5" y2="1826.8" stroke-width="3.2"/>
<line x1="1734.5" y1="1826.8" x2="1734.5" y2="1967.1" stroke-width="3.2"/>
<line x1="1711.9" y1="1797.4" x2="1748.6" y2="1818.6" stroke-width="3.2"/>
<line x1="1748.6" y1="1818.6" x2="1748.6" y2="1958.9" stroke-width="3.2"/>
<line x1="1726" y1="1789.3" x2="1762.6" y2="1810.5" stroke-width="3.2"/>
<line x1="1762.6" y1="1810.5" x2="1762.6" y2="1950.8" stroke-width="3.2"/>
<line x1="1740" y1="1781.1" x2="1776.7" y2="1802.3" stroke-width="3.2"/>
<line x1="1776.7" y1="1802.3" x2="1776.7" y2="1942.6" stroke-width="3.2"/>
<line x1="1754.1" y1="1773" x2="1790.8" y2="1794.1" stroke-width="3.2"/>
<line x1="1790.8" y1="1794.1" x2="1790.8" y2="1934.5" stroke-width="3.2"/>
<line x1="1768.2" y1="1764.8" x2="1804.8" y2="1786" stroke-width="3.2"/>
<line x1="1804.8" y1="1786" x2="1804.8" y2="1926.3" stroke-width="3.2"/>
<line x1="1782.2" y1="1756.6" x2="1818.9" y2="1777.8" stroke-width="3.2"/>
<line x1="1818.9" y1="1777.8" x2="1818.9" y2="1918.1" stroke-width="3.2"/>
<line x1="1796.3" y1="1748.5" x2="1833" y2="1769.7" stroke-width="3.2"/>
<line x1="1833" y1="1769.7" x2="1833" y2="1910" stroke-width="3.2"/>
<line x1="1810.4" y1="1740.3" x2="1847" y2="1761.5" stroke-width="3.2"/>
<line x1="1847" y1="1761.5" x2="1847" y2="1901.8" stroke-width="3.2"/>
<line x1="1824.5" y1="1732.1" x2="1861.1" y2="1753.3" stroke-width="3.2"/>
<line x1="1861.1" y1="1753.3" x2="1861.1" y2="1893.7" stroke-width="3.2"/>
<line x1="1838.5" y1="1724" x2="1875.2" y2="1745.2" stroke-width="3.2"/>
<line x1="1875.2" y1="1745.2" x2="1875.2" y2="1885.5" stroke-width="3.2"/>
<line x1="1852.6" y1="1715.8" x2="1889.3" y2="1737" stroke-width="3.2"/>
<line x1="1889.3" y1="1737" x2="1889.3" y2="1877.3" stroke-width="3.2"/>
<line x1="1866.7" y1="1707.7" x2="1903.3" y2="1728.8" stroke-width="3.2"/>
<line x1="1903.3" y1="1728.8" x2="1903.3" y2="1869.2" stroke-width="3.2"/>
<line x1="1880.7" y1="1699.5" x2="1917.4" y2="1720.7" stroke-width="3.2"/>
<line x1="1917.4" y1="1720.7" x2="1917.4" y2="1861" stroke-width="3.2"/>
<line x1="1894.8" y1="1691.3" x2="1931.5" y2="1712.5" stroke-width="3.2"/>
<line x1="1931.5" y1="1712.5" x2="1931.5" y2="1852.8" stroke-width="3.2"/>
<line x1="1908.9" y1="1683.2" x2="1945.5" y2="1704.4" stroke-width="3.2"/>
<line x1="1945.5" y1="1704.4" x2="1945.5" y2="1844.7" stroke-width="3.2"/>
<line x1="1922.9" y1="1675" x2="1959.6" y2="1696.2" stroke-width="3.2"/>
<line x1="1959.6" y1="1696.2" x2="1959.6" y2="1836.5" stroke-width="3.2"/>
<line x1="1937" y1="1666.9" x2="1973.7" y2="1688" stroke-width="3.2"/>
<line x1="1973.7" y1="1688" x2="1973.7" y2="1828.4" stroke-width="3.2"/>
<line x1="1951.1" y1="1658.7" x2="1987.8" y2="1679.9" stroke-width="3.2"/>
<line x1="1987.8" y1="1679.9" x2="1987.8" y2="1820.2" stroke-width="3.2"/>
<line x1="1965.2" y1="1650.5" x2="2001.8" y2="1671.7" stroke-width="3.2"/>
<line x1="2001.8" y1="1671.7" x2="2001.8" y2="1812" stroke-width="3.2"/>
<line x1="1979.2" y1="1642.4" x2="2015.9" y2="1663.6" stroke-width="3.2"/>
<line x1="2015.9" y1="1663.6" x2="2015.9" y2="1803.9" stroke-width="3.2"/>
<line x1="1993.3" y1="1634.2" x2="2030" y2="1655.4" stroke-width="3.2"/>
<line x1="2030" y1="1655.4" x2="2030" y2="1795.7" stroke-width="3.2"/>
<line x1="2007.4" y1="1626" x2="2044" y2="1647.2" stroke-width="3.2"/>
<line x1="2044" y1="1647.2" x2="2044" y2="1787.6" stroke-width="3.2"/>
<line x1="2021.4" y1="1617.9" x2="2058.1" y2="1639.1" stroke-width="3.2"/>
<line x1="2058.1" y1="1639.1" x2="2058.1" y2="1779.4" stroke-width="3.2"/>
<line x1="2039.7" y1="1790" x2="2062" y2="1803.7" stroke-width="3.0"/>
<line x1="2050.9" y1="1786" x2="2050.9" y2="1796.5" stroke-width="2.6"/>
<path d="M304 1728.5 L1107.2 2192.7 L1144.3 2171.2 L341.1 1707 Z" fill="#fff" stroke-width="3.4"/>
<path d="M304 1728.5 L1107.2 2192.7 L1107.2 2333 L318 1876.9 Q304.3 1869.8 304.3 1858.8 Z" fill="#fff" stroke-width="3.4"/>
<path d="M1107.2 2192.7 L1144.3 2171.2 L1144.3 2307.5 L1107.2 2330 Z" fill="#fff" stroke-width="3.4"/>
<line x1="318.1" y1="1736.6" x2="318.1" y2="1877" stroke-width="3.2"/>
<line x1="318.1" y1="1736.6" x2="355.2" y2="1715.1" stroke-width="3.2"/>
<line x1="332.1" y1="1744.8" x2="332.1" y2="1885.1" stroke-width="3.2"/>
<line x1="332.1" y1="1744.8" x2="369.3" y2="1723.2" stroke-width="3.2"/>
<line x1="346.2" y1="1752.9" x2="346.2" y2="1893.2" stroke-width="3.2"/>
<line x1="346.2" y1="1752.9" x2="383.4" y2="1731.3" stroke-width="3.2"/>
<line x1="360.3" y1="1761" x2="360.3" y2="1901.3" stroke-width="3.2"/>
<line x1="360.3" y1="1761" x2="397.4" y2="1739.5" stroke-width="3.2"/>
<line x1="374.3" y1="1769.2" x2="374.3" y2="1909.5" stroke-width="3.2"/>
<line x1="374.3" y1="1769.2" x2="411.5" y2="1747.6" stroke-width="3.2"/>
<line x1="388.4" y1="1777.3" x2="388.4" y2="1917.6" stroke-width="3.2"/>
<line x1="388.4" y1="1777.3" x2="425.6" y2="1755.7" stroke-width="3.2"/>
<line x1="402.5" y1="1785.4" x2="402.5" y2="1925.7" stroke-width="3.2"/>
<line x1="402.5" y1="1785.4" x2="439.6" y2="1763.9" stroke-width="3.2"/>
<line x1="416.6" y1="1793.5" x2="416.6" y2="1933.9" stroke-width="3.2"/>
<line x1="416.6" y1="1793.5" x2="453.7" y2="1772" stroke-width="3.2"/>
<line x1="430.6" y1="1801.7" x2="430.6" y2="1942" stroke-width="3.2"/>
<line x1="430.6" y1="1801.7" x2="467.8" y2="1780.1" stroke-width="3.2"/>
<line x1="444.7" y1="1809.8" x2="444.7" y2="1950.1" stroke-width="3.2"/>
<line x1="444.7" y1="1809.8" x2="481.8" y2="1788.3" stroke-width="3.2"/>
<line x1="458.8" y1="1817.9" x2="458.8" y2="1958.3" stroke-width="3.2"/>
<line x1="458.8" y1="1817.9" x2="495.9" y2="1796.4" stroke-width="3.2"/>
<line x1="472.8" y1="1826.1" x2="472.8" y2="1966.4" stroke-width="3.2"/>
<line x1="472.8" y1="1826.1" x2="510" y2="1804.5" stroke-width="3.2"/>
<line x1="486.9" y1="1834.2" x2="486.9" y2="1974.5" stroke-width="3.2"/>
<line x1="486.9" y1="1834.2" x2="524.1" y2="1812.7" stroke-width="3.2"/>
<line x1="501" y1="1842.3" x2="501" y2="1982.7" stroke-width="3.2"/>
<line x1="501" y1="1842.3" x2="538.1" y2="1820.8" stroke-width="3.2"/>
<line x1="515" y1="1850.5" x2="515" y2="1990.8" stroke-width="3.2"/>
<line x1="515" y1="1850.5" x2="552.2" y2="1828.9" stroke-width="3.2"/>
<line x1="529.1" y1="1858.6" x2="529.1" y2="1998.9" stroke-width="3.2"/>
<line x1="529.1" y1="1858.6" x2="566.3" y2="1837.1" stroke-width="3.2"/>
<line x1="543.2" y1="1866.7" x2="543.2" y2="2007.1" stroke-width="3.2"/>
<line x1="543.2" y1="1866.7" x2="580.3" y2="1845.2" stroke-width="3.2"/>
<line x1="557.3" y1="1874.9" x2="557.3" y2="2015.2" stroke-width="3.2"/>
<line x1="557.3" y1="1874.9" x2="594.4" y2="1853.3" stroke-width="3.2"/>
<line x1="571.3" y1="1883" x2="571.3" y2="2023.3" stroke-width="3.2"/>
<line x1="571.3" y1="1883" x2="608.5" y2="1861.4" stroke-width="3.2"/>
<line x1="585.4" y1="1891.1" x2="585.4" y2="2031.4" stroke-width="3.2"/>
<line x1="585.4" y1="1891.1" x2="622.5" y2="1869.6" stroke-width="3.2"/>
<line x1="599.5" y1="1899.3" x2="599.5" y2="2039.6" stroke-width="3.2"/>
<line x1="599.5" y1="1899.3" x2="636.6" y2="1877.7" stroke-width="3.2"/>
<line x1="613.5" y1="1907.4" x2="613.5" y2="2047.7" stroke-width="3.2"/>
<line x1="613.5" y1="1907.4" x2="650.7" y2="1885.8" stroke-width="3.2"/>
<line x1="627.6" y1="1915.5" x2="627.6" y2="2055.8" stroke-width="3.2"/>
<line x1="627.6" y1="1915.5" x2="664.8" y2="1894" stroke-width="3.2"/>
<line x1="641.7" y1="1923.7" x2="641.7" y2="2064" stroke-width="3.2"/>
<line x1="641.7" y1="1923.7" x2="678.8" y2="1902.1" stroke-width="3.2"/>
<line x1="655.7" y1="1931.8" x2="655.7" y2="2072.1" stroke-width="3.2"/>
<line x1="655.7" y1="1931.8" x2="692.9" y2="1910.2" stroke-width="3.2"/>
<line x1="669.8" y1="1939.9" x2="669.8" y2="2080.2" stroke-width="3.2"/>
<line x1="669.8" y1="1939.9" x2="707" y2="1918.4" stroke-width="3.2"/>
<line x1="683.9" y1="1948" x2="683.9" y2="2088.4" stroke-width="3.2"/>
<line x1="683.9" y1="1948" x2="721" y2="1926.5" stroke-width="3.2"/>
<line x1="698" y1="1956.2" x2="698" y2="2096.5" stroke-width="3.2"/>
<line x1="698" y1="1956.2" x2="735.1" y2="1934.6" stroke-width="3.2"/>
<line x1="712" y1="1964.3" x2="712" y2="2104.6" stroke-width="3.2"/>
<line x1="712" y1="1964.3" x2="749.2" y2="1942.8" stroke-width="3.2"/>
<line x1="726.1" y1="1972.4" x2="726.1" y2="2112.8" stroke-width="3.2"/>
<line x1="726.1" y1="1972.4" x2="763.2" y2="1950.9" stroke-width="3.2"/>
<line x1="740.2" y1="1980.6" x2="740.2" y2="2120.9" stroke-width="3.2"/>
<line x1="740.2" y1="1980.6" x2="777.3" y2="1959" stroke-width="3.2"/>
<line x1="754.2" y1="1988.7" x2="754.2" y2="2129" stroke-width="3.2"/>
<line x1="754.2" y1="1988.7" x2="791.4" y2="1967.2" stroke-width="3.2"/>
<line x1="768.3" y1="1996.8" x2="768.3" y2="2137.2" stroke-width="3.2"/>
<line x1="768.3" y1="1996.8" x2="805.4" y2="1975.3" stroke-width="3.2"/>
<line x1="782.4" y1="2005" x2="782.4" y2="2145.3" stroke-width="3.2"/>
<line x1="782.4" y1="2005" x2="819.5" y2="1983.4" stroke-width="3.2"/>
<line x1="796.4" y1="2013.1" x2="796.4" y2="2153.4" stroke-width="3.2"/>
<line x1="796.4" y1="2013.1" x2="833.6" y2="1991.6" stroke-width="3.2"/>
<line x1="810.5" y1="2021.2" x2="810.5" y2="2161.6" stroke-width="3.2"/>
<line x1="810.5" y1="2021.2" x2="847.7" y2="1999.7" stroke-width="3.2"/>
<line x1="824.6" y1="2029.4" x2="824.6" y2="2169.7" stroke-width="3.2"/>
<line x1="824.6" y1="2029.4" x2="861.7" y2="2007.8" stroke-width="3.2"/>
<line x1="838.6" y1="2037.5" x2="838.6" y2="2177.8" stroke-width="3.2"/>
<line x1="838.6" y1="2037.5" x2="875.8" y2="2015.9" stroke-width="3.2"/>
<line x1="852.7" y1="2045.6" x2="852.7" y2="2185.9" stroke-width="3.2"/>
<line x1="852.7" y1="2045.6" x2="889.9" y2="2024.1" stroke-width="3.2"/>
<line x1="866.8" y1="2053.8" x2="866.8" y2="2194.1" stroke-width="3.2"/>
<line x1="866.8" y1="2053.8" x2="903.9" y2="2032.2" stroke-width="3.2"/>
<line x1="880.9" y1="2061.9" x2="880.9" y2="2202.2" stroke-width="3.2"/>
<line x1="880.9" y1="2061.9" x2="918" y2="2040.3" stroke-width="3.2"/>
<line x1="894.9" y1="2070" x2="894.9" y2="2210.3" stroke-width="3.2"/>
<line x1="894.9" y1="2070" x2="932.1" y2="2048.5" stroke-width="3.2"/>
<line x1="909" y1="2078.2" x2="909" y2="2218.5" stroke-width="3.2"/>
<line x1="909" y1="2078.2" x2="946.1" y2="2056.6" stroke-width="3.2"/>
<line x1="923.1" y1="2086.3" x2="923.1" y2="2226.6" stroke-width="3.2"/>
<line x1="923.1" y1="2086.3" x2="960.2" y2="2064.7" stroke-width="3.2"/>
<line x1="937.1" y1="2094.4" x2="937.1" y2="2234.7" stroke-width="3.2"/>
<line x1="937.1" y1="2094.4" x2="974.3" y2="2072.9" stroke-width="3.2"/>
<line x1="951.2" y1="2102.5" x2="951.2" y2="2242.9" stroke-width="3.2"/>
<line x1="951.2" y1="2102.5" x2="988.4" y2="2081" stroke-width="3.2"/>
<line x1="965.3" y1="2110.7" x2="965.3" y2="2251" stroke-width="3.2"/>
<line x1="965.3" y1="2110.7" x2="1002.4" y2="2089.1" stroke-width="3.2"/>
<line x1="979.3" y1="2118.8" x2="979.3" y2="2259.1" stroke-width="3.2"/>
<line x1="979.3" y1="2118.8" x2="1016.5" y2="2097.3" stroke-width="3.2"/>
<line x1="993.4" y1="2126.9" x2="993.4" y2="2267.3" stroke-width="3.2"/>
<line x1="993.4" y1="2126.9" x2="1030.6" y2="2105.4" stroke-width="3.2"/>
<line x1="1007.5" y1="2135.1" x2="1007.5" y2="2275.4" stroke-width="3.2"/>
<line x1="1007.5" y1="2135.1" x2="1044.6" y2="2113.5" stroke-width="3.2"/>
<line x1="1021.6" y1="2143.2" x2="1021.6" y2="2283.5" stroke-width="3.2"/>
<line x1="1021.6" y1="2143.2" x2="1058.7" y2="2121.7" stroke-width="3.2"/>
<line x1="1035.6" y1="2151.3" x2="1035.6" y2="2291.7" stroke-width="3.2"/>
<line x1="1035.6" y1="2151.3" x2="1072.8" y2="2129.8" stroke-width="3.2"/>
<line x1="1049.7" y1="2159.5" x2="1049.7" y2="2299.8" stroke-width="3.2"/>
<line x1="1049.7" y1="2159.5" x2="1086.8" y2="2137.9" stroke-width="3.2"/>
<line x1="1063.8" y1="2167.6" x2="1063.8" y2="2307.9" stroke-width="3.2"/>
<line x1="1063.8" y1="2167.6" x2="1100.9" y2="2146" stroke-width="3.2"/>
<line x1="1077.8" y1="2175.7" x2="1077.8" y2="2316.1" stroke-width="3.2"/>
<line x1="1077.8" y1="2175.7" x2="1115" y2="2154.2" stroke-width="3.2"/>
<line x1="1091.9" y1="2183.9" x2="1091.9" y2="2324.2" stroke-width="3.2"/>
<line x1="1091.9" y1="2183.9" x2="1129" y2="2162.3" stroke-width="3.2"/>
<path d="M1116.8 2318 L1116.8 2187.3 L1131.7 2179.2 L1131.7 2309" fill="none" stroke-width="3.2"/>
<path d="M330.5 1883.5 L333 1889 L421 1942 L425 1938.5" fill="none" stroke-width="2.8"/>
<path d="M1021.5 2283 L1024 2290 L1112.5 2340.8 L1156.3 2315.7 L1161 2299.4" fill="none" stroke-width="3.4"/>
<line x1="1112.5" y1="2329" x2="1112.5" y2="2340.8" stroke-width="2.8"/>
<path d="M405.9 1744.4 A6 6 0 0 1 416.3 1750.4" fill="none" stroke-width="2.6"/>
</g>
<g stroke="#000" stroke-linecap="butt">
<line x1="304" y1="1859.5" x2="304" y2="1895.9" stroke-width="3.1" stroke-linecap="round"/>
<line x1="304" y1="1917.8" x2="304" y2="1957.3" stroke-width="3.1" stroke-linecap="round"/>
<line x1="304" y1="1979.1" x2="304" y2="2018.6" stroke-width="3.1" stroke-linecap="round"/>
<line x1="304" y1="2040.4" x2="304" y2="2079.9" stroke-width="3.1" stroke-linecap="round"/>
<line x1="304" y1="2101.7" x2="304" y2="2141.2" stroke-width="3.1" stroke-linecap="round"/>
<line x1="304" y1="2163" x2="304" y2="2202.5" stroke-width="3.1" stroke-linecap="round"/>
<line x1="304" y1="2224.3" x2="304" y2="2263.8" stroke-width="3.1" stroke-linecap="round"/>
<line x1="304" y1="2285.6" x2="304" y2="2325.1" stroke-width="3.1" stroke-linecap="round"/>
<line x1="304" y1="2346.9" x2="304" y2="2386.4" stroke-width="3.1" stroke-linecap="round"/>
<line x1="304" y1="2408.2" x2="304" y2="2447.5" stroke-width="3.1" stroke-linecap="round"/>
<line x1="421.9" y1="1943.1" x2="421.9" y2="1978.1" stroke-width="3.1" stroke-linecap="round"/>
<line x1="421.9" y1="1997.8" x2="421.9" y2="2032.8" stroke-width="3.1" stroke-linecap="round"/>
<line x1="421.9" y1="2052.5" x2="421.9" y2="2087.5" stroke-width="3.1" stroke-linecap="round"/>
<line x1="421.9" y1="2107.2" x2="421.9" y2="2142.2" stroke-width="3.1" stroke-linecap="round"/>
<line x1="421.9" y1="2161.9" x2="421.9" y2="2196.9" stroke-width="3.1" stroke-linecap="round"/>
<line x1="421.9" y1="2216.6" x2="421.9" y2="2251.6" stroke-width="3.1" stroke-linecap="round"/>
<line x1="421.9" y1="2271.3" x2="421.9" y2="2306.3" stroke-width="3.1" stroke-linecap="round"/>
<line x1="421.9" y1="2326" x2="421.9" y2="2353.7" stroke-width="3.1" stroke-linecap="round"/>
<line x1="1022.8" y1="2294.5" x2="1022.8" y2="2326.3" stroke-width="3.1" stroke-linecap="round"/>
<line x1="1022.8" y1="2340.2" x2="1022.8" y2="2371.3" stroke-width="3.1" stroke-linecap="round"/>
<line x1="1112.3" y1="2343.8" x2="1112.3" y2="2382.8" stroke-width="3.1" stroke-linecap="round"/>
<line x1="1112.3" y1="2394.5" x2="1112.3" y2="2448.5" stroke-width="3.1" stroke-linecap="round"/>
<line x1="1143.9" y1="2303.2" x2="1143.9" y2="2329.2" stroke-width="3.1" stroke-linecap="round"/>
<line x1="1143.9" y1="2351.1" x2="1143.9" y2="2371.3" stroke-width="3.1" stroke-linecap="round"/>
<line x1="2061.9" y1="1807.5" x2="2061.9" y2="1848.1" stroke-width="3.1" stroke-linecap="round"/>
<line x1="2061.9" y1="1868.8" x2="2061.9" y2="1908.8" stroke-width="3.1" stroke-linecap="round"/>
<line x1="2061.9" y1="1929.8" x2="2061.9" y2="1969.8" stroke-width="3.1" stroke-linecap="round"/>
<line x1="2061.9" y1="1990.8" x2="2061.9" y2="2030.8" stroke-width="3.1" stroke-linecap="round"/>
<line x1="2061.9" y1="2051.8" x2="2061.9" y2="2091.8" stroke-width="3.1" stroke-linecap="round"/>
<line x1="2061.9" y1="2112.8" x2="2061.9" y2="2152.8" stroke-width="3.1" stroke-linecap="round"/>
<line x1="2061.9" y1="2173.8" x2="2061.9" y2="2213.8" stroke-width="3.1" stroke-linecap="round"/>
<line x1="2061.9" y1="2234.8" x2="2061.9" y2="2274.8" stroke-width="3.1" stroke-linecap="round"/>
<line x1="2061.9" y1="2295.8" x2="2061.9" y2="2335.8" stroke-width="3.1" stroke-linecap="round"/>
<line x1="2061.9" y1="2356.8" x2="2061.9" y2="2367.5" stroke-width="3.1" stroke-linecap="round"/>
<line x1="2181.6" y1="1739.5" x2="2181.6" y2="1779.2" stroke-width="3.1" stroke-linecap="round"/>
<line x1="2181.6" y1="1801.9" x2="2181.6" y2="1841.9" stroke-width="3.1" stroke-linecap="round"/>
<line x1="2181.6" y1="1862.9" x2="2181.6" y2="1902.9" stroke-width="3.1" stroke-linecap="round"/>
<line x1="2181.6" y1="1923.9" x2="2181.6" y2="1963.9" stroke-width="3.1" stroke-linecap="round"/>
<line x1="2181.6" y1="1984.9" x2="2181.6" y2="2024.9" stroke-width="3.1" stroke-linecap="round"/>
<line x1="2181.6" y1="2045.9" x2="2181.6" y2="2085.9" stroke-width="3.1" stroke-linecap="round"/>
<line x1="2181.6" y1="2106.9" x2="2181.6" y2="2146.9" stroke-width="3.1" stroke-linecap="round"/>
<line x1="2181.6" y1="2167.9" x2="2181.6" y2="2207.9" stroke-width="3.1" stroke-linecap="round"/>
<line x1="2181.6" y1="2228.9" x2="2181.6" y2="2268.9" stroke-width="3.1" stroke-linecap="round"/>
<line x1="2181.6" y1="2289.9" x2="2181.6" y2="2329.9" stroke-width="3.1" stroke-linecap="round"/>
<line x1="2181.6" y1="2350.9" x2="2181.6" y2="2390.9" stroke-width="3.1" stroke-linecap="round"/>
<line x1="2181.6" y1="2411.9" x2="2181.6" y2="2435.5" stroke-width="3.1" stroke-linecap="round"/>
<line x1="421.9" y1="2342.5" x2="1022.8" y2="2342.5" stroke-width="2.8"/>
<path d="M421.9 2342.5 L440.9 2330.5 L440.9 2354.5 Z" fill="#000" stroke="none"/>
<path d="M1022.8 2342.5 L1003.8 2354.5 L1003.8 2330.5 Z" fill="#000" stroke="none"/>
<line x1="304" y1="2416.5" x2="1111.8" y2="2416.5" stroke-width="2.8"/>
<path d="M304 2416.5 L323 2404.5 L323 2428.5 Z" fill="#000" stroke="none"/>
<path d="M1111.8 2416.5 L1092.8 2428.5 L1092.8 2404.5 Z" fill="#000" stroke="none"/>
<line x1="1143.9" y1="2343.8" x2="2061.6" y2="2343.8" stroke-width="2.8"/>
<path d="M1143.9 2343.8 L1162.9 2331.8 L1162.9 2355.8 Z" fill="#000" stroke="none"/>
<path d="M2061.6 2343.8 L2042.6 2355.8 L2042.6 2331.8 Z" fill="#000" stroke="none"/>
<line x1="1112.5" y1="2415.3" x2="2181.7" y2="2415.3" stroke-width="2.8"/>
<path d="M1112.5 2415.3 L1131.5 2403.3 L1131.5 2427.3 Z" fill="#000" stroke="none"/>
<path d="M2181.7 2415.3 L2162.7 2427.3 L2162.7 2403.3 Z" fill="#000" stroke="none"/>
<line x1="280.6" y1="1730" x2="280.6" y2="1889" stroke-width="2.8"/>
<path d="M280.6 1728.5 L292.6 1747.5 L268.6 1747.5 Z" fill="#000" stroke="none"/>
<path d="M280.6 1890.2 L268.6 1871.2 L292.6 1871.2 Z" fill="#000" stroke="none"/>
<line x1="2211" y1="818" x2="2211" y2="1737" stroke-width="2.8"/>
<path d="M2211 817 L2223 836 L2199 836 Z" fill="#000" stroke="none"/>
<path d="M2211 1737.8 L2199 1718.8 L2223 1718.8 Z" fill="#000" stroke="none"/>
<line x1="770.8" y1="1505" x2="770.8" y2="1610" stroke-width="2.8"/>
<path d="M770.8 1504.3 L782.8 1523.3 L758.8 1523.3 Z" fill="#000" stroke="none"/>
<path d="M770.8 1610.5 L758.8 1591.5 L782.8 1591.5 Z" fill="#000" stroke="none"/>
<line x1="1436" y1="1115" x2="1436" y2="1296" stroke-width="2.8"/>
<path d="M1436 1114.2 L1448 1133.2 L1424 1133.2 Z" fill="#000" stroke="none"/>
<path d="M1436 1296.7 L1424 1277.7 L1448 1277.7 Z" fill="#000" stroke="none"/>
<line x1="1467.1" y1="1508" x2="1467.1" y2="1533" stroke-width="2.9"/>
<path d="M1467.1 1502.8 L1473.6 1512.6 L1460.6 1512.6 Z" fill="#000" stroke="none"/>
<path d="M1467.1 1539.3 L1460.6 1528.3 L1473.6 1528.3 Z" fill="#000" stroke="none"/>
<line x1="1169.9" y1="2300" x2="1169.9" y2="2316" stroke-width="2.6"/>
<path d="M1169.9 2296.6 L1176.1 2304.9 L1163.7 2304.9 Z" fill="#000" stroke="none"/>
<path d="M1169.9 2320.6 L1163.7 2312.3 L1176.1 2312.3 Z" fill="#000" stroke="none"/>
<line x1="1312.5" y1="1256.3" x2="1978" y2="1640.5" stroke-width="2.8"/>
<path d="M1298 1244.4 L1319.7 1244.4 L1307.3 1263.5 Z" fill="#000"/>
<path d="M1971 1620.1 L1959.2 1641 L1981.9 1641 Z" fill="#000"/>
<line x1="974.1" y1="994.2" x2="1159.5" y2="1540" stroke-width="2.9"/>
<path d="M1147.1 1542.2 L1170.3 1537.1 L1162.9 1557.8 Z" fill="#000"/>
</g>
<g class="t" stroke="none">
<text x="1275.6" y="88.6" font-size="49.8" text-anchor="middle">Inner Size: 73.00&quot;W X 86.00&quot;D</text>
<text x="208.4" y="1828.9" font-size="45" text-anchor="middle">12.25&quot;</text>
<text x="717.1" y="2331.1" font-size="45" text-anchor="middle">62.00&quot;</text>
<text x="717.6" y="2403.6" font-size="45" text-anchor="middle">83.25&quot;</text>
<text x="1618.6" y="2331" font-size="45" text-anchor="middle">81.00&quot;</text>
<text x="1619.7" y="2402.4" font-size="45" text-anchor="middle">94.00&quot;</text>
<text x="1510.3" y="1235.7" font-size="45" text-anchor="middle">19.00&quot;</text>
<text x="1404.1" y="1536" font-size="45" text-anchor="middle">3.50&quot;</text>
<text x="1235.7" y="2319.4" font-size="45" text-anchor="middle">2.00&quot;</text>
<text x="978.6" y="986.4" font-size="45" text-anchor="middle">73.00&quot;</text>
<text x="1704.9" y="1428.7" font-size="45" text-anchor="middle">73.00&quot;</text>
<text x="2291.5" y="1295.2" font-size="45" text-anchor="middle">67.25&quot;</text>
<text x="837.3" y="1566.2" font-size="45" text-anchor="middle">8.00&quot;</text>
</g>
</svg>
</body></html>
